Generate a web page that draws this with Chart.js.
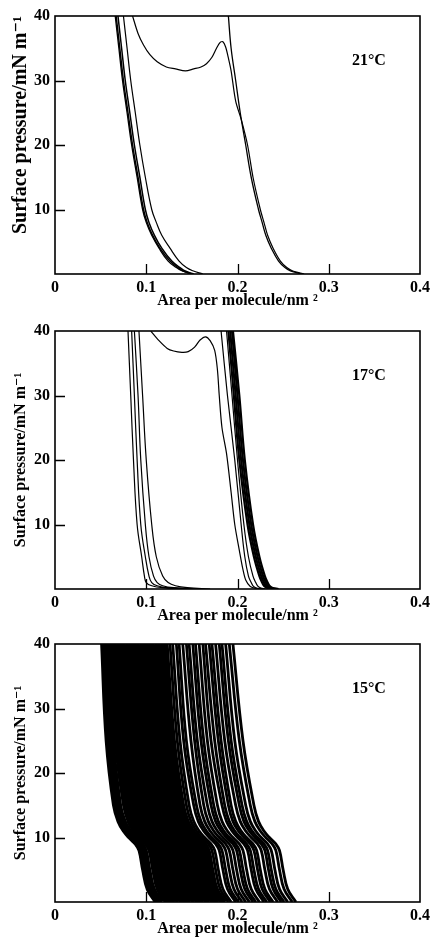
<!DOCTYPE html>
<html><head><meta charset="utf-8">
<script src="https://cdn.jsdelivr.net/npm/chart.js@4.4.1/dist/chart.umd.min.js"></script>
<style>
html,body{margin:0;padding:0;background:#fff;}
#wrap{position:relative;width:434px;height:938px;overflow:hidden;background:#fff;}
canvas{position:absolute;left:0;}
</style></head><body>
<div id="wrap">
<canvas id="c21" width="434" height="312" style="top:0px"></canvas>
<canvas id="c17" width="434" height="312" style="top:315px"></canvas>
<canvas id="c15" width="434" height="312" style="top:628px"></canvas>
</div>
<script>
// ---------- axes / labels ----------
const X_TICKS = [0, 0.1, 0.2, 0.3, 0.4];
const Y_TICKS = [0, 10, 20, 30, 40];
const X_TITLE = 'Area per molecule/nm \u00B2';
const Y_TITLE = 'Surface pressure/mN m\u207B\u00B9';
const TEMP_LABELS = ['21°C', '17°C', '15°C'];
const LABEL_AT = [0.344, 33];

// ---------- 21 °C ----------
const P21 = [0, 0.5, 1, 2, 4, 6, 8, 10, 15, 20, 25, 30, 35, 40];
const A21_H1 = [0.152, 0.142, 0.137, 0.128, 0.117, 0.109, 0.103, 0.099, 0.093, 0.087, 0.082, 0.077, 0.073, 0.069];
const A21_H2 = [0.150, 0.140, 0.135, 0.126, 0.115, 0.107, 0.101, 0.097, 0.091, 0.085, 0.080, 0.075, 0.071, 0.067];
const A21_H3 = [0.149, 0.139, 0.133, 0.124, 0.114, 0.106, 0.100, 0.096, 0.090, 0.084, 0.079, 0.074, 0.070, 0.066];
const A21_T  = [0.162, 0.151, 0.144, 0.136, 0.126, 0.117, 0.111, 0.106, 0.099, 0.093, 0.088, 0.083, 0.079, 0.075];
const A21_R  = [0.270, 0.258, 0.252, 0.245, 0.237, 0.231, 0.227, 0.223, 0.215, 0.209, 0.203, 0.198, 0.193, 0.190];
const LOOP21_A = [0.085, 0.091, 0.097, 0.104, 0.112, 0.122, 0.132, 0.143, 0.152, 0.160, 0.166, 0.172, 0.177, 0.181, 0.184, 0.187, 0.190, 0.193, 0.198, 0.204, 0.211, 0.217, 0.225, 0.229, 0.233, 0.239, 0.247, 0.254, 0.260, 0.273];
const LOOP21_P = [40, 37.3, 35.5, 34.0, 32.9, 32.1, 31.8, 31.5, 31.8, 32.1, 32.6, 33.6, 35.0, 35.9, 36.0, 35.2, 33.5, 31.5, 26.8, 24.0, 20, 15, 10, 8, 6, 4, 2, 1, 0.5, 0];

// ---------- 17 °C ----------
const P17 = [0, 0.2, 0.5, 1, 2, 5, 10, 20, 30, 40];
const A17_L1 = [0.145, 0.118, 0.106, 0.100, 0.098, 0.095, 0.090, 0.086, 0.083, 0.080];
const A17_L2 = [0.150, 0.123, 0.112, 0.106, 0.103, 0.099, 0.094, 0.090, 0.087, 0.084];
const A17_L3 = [0.158, 0.130, 0.118, 0.112, 0.108, 0.103, 0.099, 0.094, 0.091, 0.087];
const A17_L4 = [0.170, 0.145, 0.132, 0.124, 0.118, 0.111, 0.106, 0.100, 0.096, 0.092];
const A17_R2 = [0.226, 0.220, 0.217, 0.215, 0.212, 0.208, 0.204, 0.197, 0.189, 0.182];
const A17_R3 = [0.231, 0.225, 0.222, 0.220, 0.217, 0.212, 0.207, 0.200, 0.194, 0.188];
const A17_T1 = [0.238, 0.232, 0.229, 0.227, 0.224, 0.218, 0.211, 0.202, 0.196, 0.190];
const A17_T2 = [0.240, 0.234, 0.231, 0.229, 0.226, 0.220, 0.213, 0.204, 0.198, 0.192];
const A17_T3 = [0.242, 0.236, 0.233, 0.231, 0.228, 0.222, 0.215, 0.206, 0.200, 0.194];
const A17_T4 = [0.245, 0.238, 0.235, 0.233, 0.230, 0.224, 0.217, 0.208, 0.202, 0.195];
const LOOP17_A = [0.105, 0.114, 0.123, 0.130, 0.139, 0.146, 0.153, 0.159, 0.165, 0.170, 0.175, 0.178, 0.180, 0.183, 0.188, 0.193, 0.197, 0.202, 0.206, 0.209, 0.214, 0.220, 0.228];
const LOOP17_P = [40, 38.5, 37.3, 36.9, 36.7, 36.8, 37.5, 38.6, 39.1, 38.5, 37, 34, 30, 25, 21, 15, 10, 6, 3, 1.4, 0.4, 0.1, 0];

// ---------- 15 °C (repeated cycles) ----------
const P15 = [0, 2, 5, 8, 9, 10, 11, 12.5, 15, 25, 40];
const A15 = [
 [0.111, 0.102, 0.097, 0.093, 0.089, 0.082, 0.076, 0.070, 0.065, 0.057, 0.052],
 [0.114, 0.105, 0.100, 0.096, 0.092, 0.085, 0.079, 0.073, 0.068, 0.060, 0.055],
 [0.117, 0.108, 0.103, 0.099, 0.095, 0.088, 0.082, 0.076, 0.071, 0.063, 0.058],
 [0.122, 0.113, 0.108, 0.104, 0.100, 0.093, 0.087, 0.081, 0.076, 0.067, 0.062],
 [0.125, 0.116, 0.111, 0.107, 0.103, 0.096, 0.090, 0.084, 0.079, 0.071, 0.065],
 [0.128, 0.119, 0.114, 0.110, 0.106, 0.099, 0.093, 0.087, 0.082, 0.074, 0.068],
 [0.131, 0.122, 0.117, 0.113, 0.109, 0.102, 0.096, 0.090, 0.085, 0.077, 0.071],
 [0.135, 0.126, 0.121, 0.117, 0.113, 0.106, 0.100, 0.094, 0.089, 0.080, 0.074],
 [0.139, 0.130, 0.125, 0.121, 0.117, 0.110, 0.104, 0.098, 0.093, 0.084, 0.078],
 [0.142, 0.133, 0.128, 0.124, 0.120, 0.113, 0.107, 0.101, 0.096, 0.087, 0.081],
 [0.145, 0.136, 0.131, 0.127, 0.123, 0.116, 0.110, 0.104, 0.099, 0.090, 0.084],
 [0.148, 0.139, 0.134, 0.130, 0.126, 0.119, 0.113, 0.107, 0.102, 0.093, 0.087],
 [0.152, 0.143, 0.138, 0.134, 0.130, 0.123, 0.117, 0.111, 0.106, 0.097, 0.090],
 [0.156, 0.147, 0.142, 0.138, 0.134, 0.127, 0.121, 0.115, 0.110, 0.101, 0.094],
 [0.159, 0.150, 0.145, 0.141, 0.137, 0.130, 0.124, 0.118, 0.113, 0.104, 0.097],
 [0.162, 0.153, 0.148, 0.144, 0.140, 0.133, 0.127, 0.121, 0.116, 0.107, 0.100],
 [0.166, 0.157, 0.152, 0.148, 0.144, 0.137, 0.131, 0.125, 0.120, 0.110, 0.103],
 [0.169, 0.160, 0.155, 0.151, 0.147, 0.140, 0.134, 0.128, 0.123, 0.113, 0.106],
 [0.173, 0.164, 0.159, 0.155, 0.151, 0.144, 0.138, 0.132, 0.127, 0.117, 0.110],
 [0.176, 0.167, 0.162, 0.158, 0.154, 0.147, 0.141, 0.135, 0.130, 0.120, 0.113],
 [0.179, 0.170, 0.165, 0.161, 0.157, 0.150, 0.144, 0.138, 0.133, 0.124, 0.116],
 [0.183, 0.174, 0.169, 0.165, 0.161, 0.154, 0.148, 0.142, 0.137, 0.127, 0.119],
 [0.186, 0.177, 0.172, 0.168, 0.164, 0.157, 0.151, 0.145, 0.140, 0.130, 0.122],
 [0.190, 0.181, 0.176, 0.172, 0.168, 0.161, 0.155, 0.149, 0.144, 0.134, 0.126],
 [0.193, 0.184, 0.179, 0.175, 0.171, 0.164, 0.158, 0.152, 0.147, 0.137, 0.129],
 [0.198, 0.189, 0.184, 0.180, 0.176, 0.169, 0.163, 0.157, 0.152, 0.141, 0.133],
 [0.201, 0.192, 0.187, 0.183, 0.179, 0.172, 0.166, 0.160, 0.155, 0.144, 0.136],
 [0.205, 0.196, 0.191, 0.187, 0.183, 0.176, 0.170, 0.164, 0.159, 0.149, 0.140],
 [0.209, 0.200, 0.195, 0.191, 0.187, 0.180, 0.174, 0.168, 0.163, 0.153, 0.144],
 [0.213, 0.204, 0.199, 0.195, 0.191, 0.184, 0.178, 0.172, 0.167, 0.156, 0.147],
 [0.217, 0.208, 0.203, 0.199, 0.195, 0.188, 0.182, 0.176, 0.171, 0.160, 0.151],
 [0.220, 0.211, 0.206, 0.202, 0.198, 0.191, 0.185, 0.179, 0.174, 0.163, 0.154],
 [0.224, 0.215, 0.210, 0.206, 0.202, 0.195, 0.189, 0.183, 0.178, 0.167, 0.158],
 [0.229, 0.220, 0.215, 0.211, 0.207, 0.200, 0.194, 0.188, 0.183, 0.171, 0.162],
 [0.232, 0.223, 0.218, 0.214, 0.210, 0.203, 0.197, 0.191, 0.186, 0.175, 0.165],
 [0.236, 0.227, 0.222, 0.218, 0.214, 0.207, 0.201, 0.195, 0.190, 0.179, 0.169],
 [0.239, 0.230, 0.225, 0.221, 0.217, 0.210, 0.204, 0.198, 0.193, 0.182, 0.172],
 [0.244, 0.235, 0.230, 0.226, 0.222, 0.215, 0.209, 0.203, 0.198, 0.186, 0.176],
 [0.248, 0.239, 0.234, 0.230, 0.226, 0.219, 0.213, 0.207, 0.202, 0.190, 0.180],
 [0.251, 0.242, 0.237, 0.233, 0.229, 0.222, 0.216, 0.210, 0.205, 0.193, 0.183],
 [0.255, 0.246, 0.241, 0.237, 0.233, 0.226, 0.220, 0.214, 0.209, 0.197, 0.187],
 [0.260, 0.251, 0.246, 0.242, 0.238, 0.231, 0.225, 0.219, 0.214, 0.202, 0.191],
 [0.264, 0.255, 0.250, 0.246, 0.242, 0.235, 0.229, 0.223, 0.218, 0.206, 0.195]
];

// ---------- rendering ----------
const SERIF = '"Liberation Serif", "DejaVu Serif", serif';

function isoCurve(P, A, width) {
  const pts = A.map((a, i) => ({ x: a, y: P[i] })).reverse();
  return { data: pts, showLine: true, borderColor: '#000', borderWidth: width,
           pointRadius: 0, tension: 0.4, clip: 0, fill: false };
}
function loopCurve(A, P, width) {
  const pts = A.map((a, i) => ({ x: a, y: P[i] }));
  return { data: pts, showLine: true, borderColor: '#000', borderWidth: width,
           pointRadius: 0, tension: 0.3, clip: 0, fill: false };
}

const framePlugin = {
  id: 'frame',
  afterDatasetsDraw(chart, args, opts) {
    const { ctx, chartArea: a } = chart;
    const xs = chart.scales.x, ys = chart.scales.y;
    ctx.save();
    ctx.strokeStyle = '#000';
    ctx.lineWidth = 1.6;
    ctx.strokeRect(a.left, a.top, a.right - a.left, a.bottom - a.top);
    ctx.lineWidth = 1.3;
    ctx.beginPath();
    xs.ticks.forEach(t => {
      if (t.value > xs.min && t.value < xs.max) {
        const p = Math.round(xs.getPixelForValue(t.value)) + 0.5;
        ctx.moveTo(p, a.bottom); ctx.lineTo(p, a.bottom - 10);
      }
    });
    ys.ticks.forEach(t => {
      if (t.value > ys.min && t.value < ys.max) {
        const p = Math.round(ys.getPixelForValue(t.value)) + 0.5;
        ctx.moveTo(a.left, p); ctx.lineTo(a.left + 10, p);
      }
    });
    ctx.stroke();
    ctx.fillStyle = '#000';
    ctx.font = 'bold 16px ' + SERIF;
    ctx.textAlign = 'center';
    ctx.textBaseline = 'middle';
    ctx.fillText(opts.label, xs.getPixelForValue(LABEL_AT[0]), ys.getPixelForValue(LABEL_AT[1]));
    ctx.restore();
  }
};

function makeChart(id, datasets, label, yTitleSize, yTitleAlign, yTitlePad) {
  return new Chart(document.getElementById(id), {
    type: 'scatter',
    data: { datasets },
    options: {
      responsive: false, animation: false, events: [],
      layout: { padding: { top: 16, right: 10, left: 0, bottom: 0 } },
      plugins: { legend: { display: false }, tooltip: { enabled: false }, frame: { label } },
      scales: {
        x: {
          type: 'linear', min: 0, max: 0.4,
          afterBuildTicks: s => { s.ticks = X_TICKS.map(v => ({ value: v })); },
          afterFit: s => { s.height = 38; },
          grid: { display: false, drawTicks: false }, border: { display: false },
          ticks: { padding: 4, color: '#000', maxRotation: 0, autoSkip: false,
                   font: { family: SERIF, size: 16, weight: 'bold' },
                   callback: v => (v === 0 ? '0' : Number(v).toFixed(1)) },
          title: { display: true, text: X_TITLE, color: '#000',
                   font: { family: SERIF, size: 16, weight: 'bold' }, padding: { top: 0, bottom: 2 } }
        },
        y: {
          type: 'linear', min: 0, max: 40,
          afterBuildTicks: s => { s.ticks = Y_TICKS.map(v => ({ value: v })); },
          afterFit: s => { s.width = 55; },
          grid: { display: false, drawTicks: false }, border: { display: false },
          ticks: { padding: 5, color: '#000', autoSkip: false,
                   font: { family: SERIF, size: 16, weight: 'bold' },
                   callback: v => (v === 0 ? '' : String(v)) },
          title: { display: true, text: Y_TITLE, color: '#000', align: yTitleAlign,
                   font: { family: SERIF, size: yTitleSize, weight: 'bold' }, padding: { top: yTitlePad, bottom: 0 } }
        }
      }
    },
    plugins: [framePlugin]
  });
}

makeChart('c21', [
  isoCurve(P21, A21_H1, 1.5), isoCurve(P21, A21_H2, 1.5), isoCurve(P21, A21_H3, 1.3),
  isoCurve(P21, A21_T, 1.2), isoCurve(P21, A21_R, 1.3), loopCurve(LOOP21_A, LOOP21_P, 1.2)
], TEMP_LABELS[0], 20, 'end', 9);

makeChart('c17', [
  isoCurve(P17, A17_L1, 1.2), isoCurve(P17, A17_L2, 1.2), isoCurve(P17, A17_L3, 1.2), isoCurve(P17, A17_L4, 1.2),
  isoCurve(P17, A17_R2, 1.2), isoCurve(P17, A17_R3, 1.2),
  isoCurve(P17, A17_T1, 2.2), isoCurve(P17, A17_T2, 2.2), isoCurve(P17, A17_T3, 2.2), isoCurve(P17, A17_T4, 2.2),
  loopCurve(LOOP17_A, LOOP17_P, 1.2)
], TEMP_LABELS[1], 16, 'center', 11);

makeChart('c15', A15.map((row, k) => isoCurve(P15, row, k < 23 ? 4.6 : 2.8)), TEMP_LABELS[2], 16, 'center', 11);
</script>
</body></html>
